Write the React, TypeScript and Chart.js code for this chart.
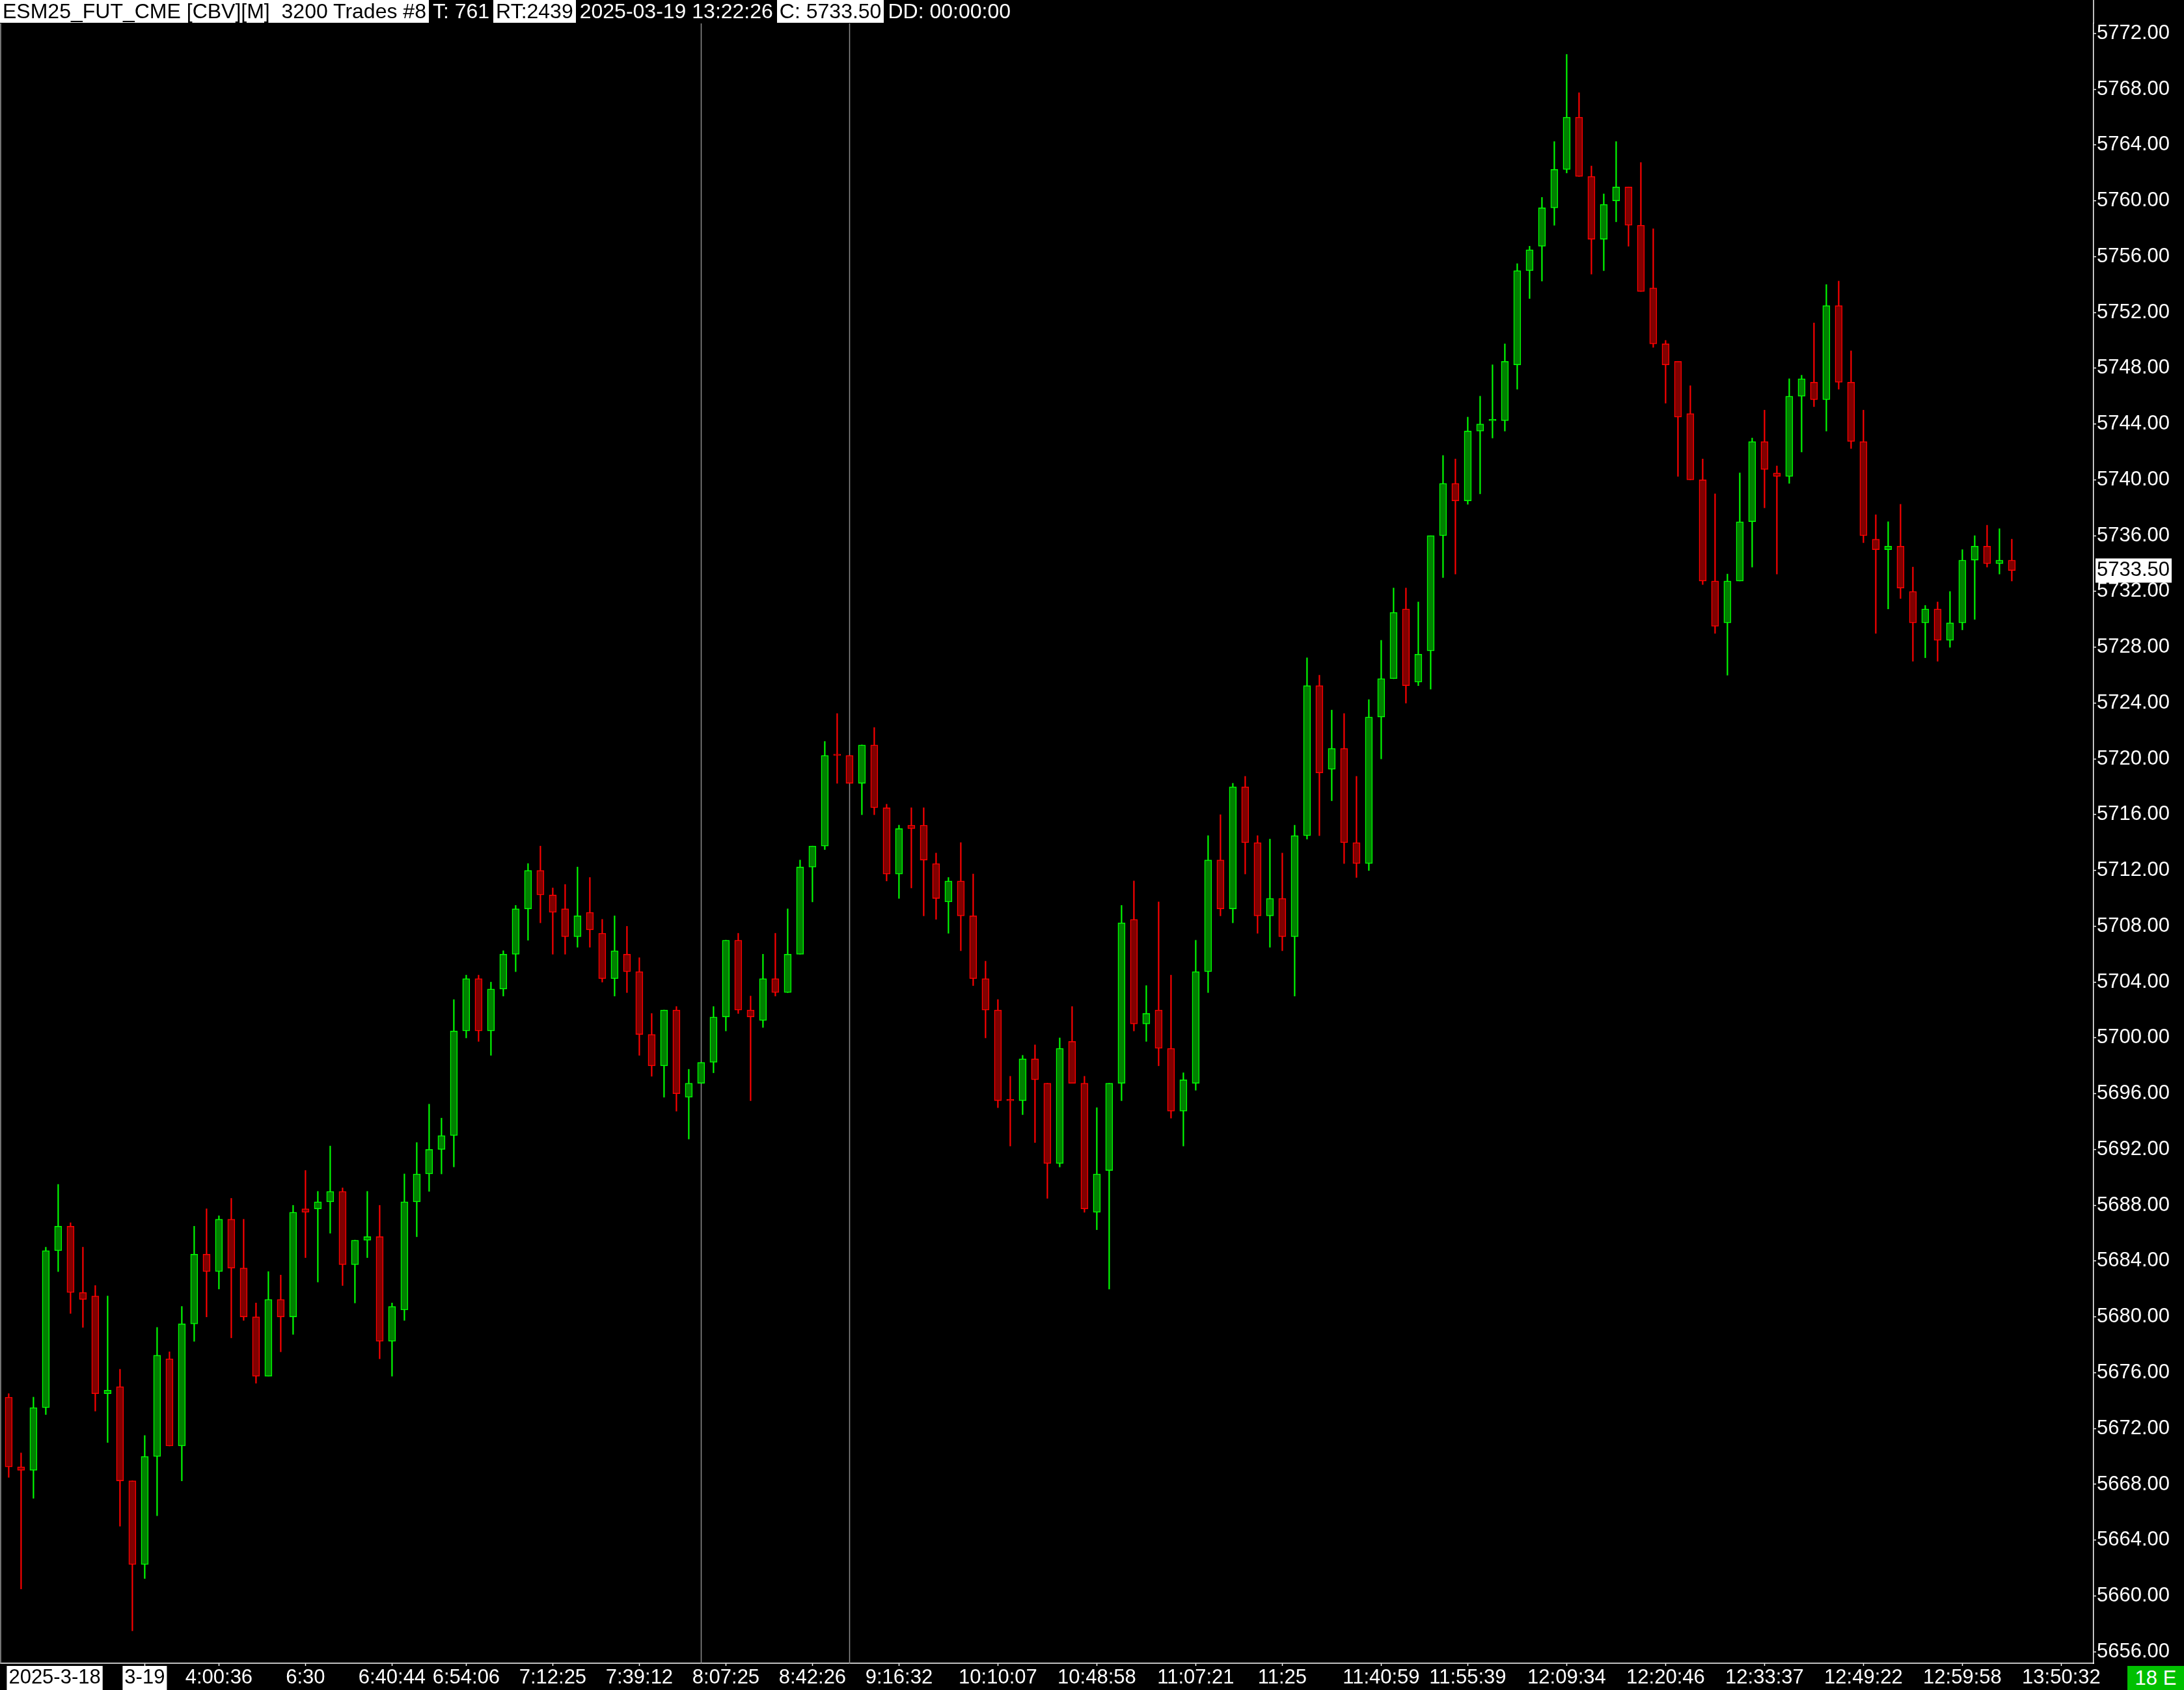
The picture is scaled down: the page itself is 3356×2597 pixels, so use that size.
import React, { useEffect, useRef } from "react";
import { Chart, registerables } from "chart.js";

Chart.register(...registerables);

const PAGE_W = 3356;
const PAGE_H = 2597;
const FONT = "'Liberation Sans', Arial, sans-serif";

// ES 1-minute-ish bars, oldest first
const opens = [
  5674.25, 5669.25, 5669.0, 5673.5, 5684.75, 5686.5, 5681.75, 5681.5, 5674.5, 5675.0,
  5668.25, 5662.25, 5670.0, 5677.0, 5670.75, 5679.5, 5684.5, 5683.25, 5687.0, 5683.5,
  5680.0, 5675.75, 5681.25, 5680.0, 5687.75, 5687.75, 5688.25, 5689.0, 5683.75, 5685.5,
  5685.75, 5678.25, 5680.5, 5688.25, 5690.25, 5692.0, 5693.0, 5700.5, 5704.25, 5700.5,
  5703.5, 5706.0, 5709.25, 5712.0, 5710.25, 5709.25, 5707.25, 5709.0, 5707.5, 5704.25,
  5706.0, 5704.75, 5700.25, 5698.0, 5702.0, 5695.75, 5696.75, 5698.25, 5701.5, 5707.0,
  5702.0, 5701.25, 5704.25, 5703.25, 5706.0, 5712.25, 5713.75, 5720.25, 5720.25, 5718.25,
  5721.0, 5716.5, 5711.75, 5715.25, 5715.25, 5712.5, 5709.75, 5711.25, 5708.75, 5704.25,
  5702.0, 5695.5, 5695.5, 5698.5, 5696.75, 5691.0, 5699.75, 5696.75, 5687.5, 5690.5,
  5696.75, 5708.5, 5701.0, 5702.0, 5699.25, 5694.75, 5696.75, 5704.75, 5712.75, 5709.25,
  5718.0, 5714.0, 5708.75, 5710.0, 5707.25, 5714.5, 5725.25, 5719.25, 5720.75, 5714.0,
  5712.5, 5723.0, 5725.75, 5730.75, 5725.5, 5727.75, 5736.0, 5739.75, 5738.5, 5743.5,
  5744.25, 5744.25, 5748.25, 5755.0, 5756.75, 5759.5, 5762.25, 5766.0, 5761.75, 5757.25,
  5760.0, 5761.0, 5758.25, 5753.75, 5749.75, 5748.5, 5744.75, 5740.0, 5732.75, 5729.75,
  5732.75, 5737.0, 5742.75, 5740.5, 5740.25, 5746.0, 5747.0, 5745.75, 5752.5, 5747.0,
  5742.75, 5735.75, 5735.0, 5735.25, 5732.0, 5729.75, 5730.75, 5728.5, 5729.75, 5734.25,
  5735.25, 5734.0, 5734.25,
];
const highs = [
  5674.5, 5670.25, 5674.25, 5685.0, 5689.5, 5686.75, 5685.0, 5682.25, 5681.5, 5676.25,
  5668.25, 5671.5, 5679.25, 5677.5, 5680.75, 5686.5, 5687.75, 5687.25, 5688.5, 5687.0,
  5681.0, 5683.25, 5683.0, 5688.0, 5690.5, 5689.0, 5692.25, 5689.25, 5685.5, 5689.0,
  5688.0, 5681.0, 5690.25, 5692.5, 5695.25, 5694.25, 5702.75, 5704.5, 5704.5, 5704.0,
  5706.25, 5709.5, 5712.5, 5713.75, 5710.75, 5711.0, 5712.25, 5711.5, 5708.5, 5708.75,
  5708.0, 5705.75, 5701.75, 5702.0, 5702.25, 5697.75, 5698.25, 5702.25, 5707.0, 5707.5,
  5703.0, 5706.0, 5707.5, 5709.25, 5712.75, 5713.75, 5721.25, 5723.25, 5720.25, 5721.0,
  5722.25, 5716.75, 5715.25, 5716.5, 5716.5, 5713.25, 5711.5, 5714.0, 5711.75, 5705.5,
  5702.75, 5697.25, 5698.75, 5699.5, 5696.75, 5700.0, 5702.25, 5697.25, 5695.0, 5696.75,
  5709.5, 5711.25, 5703.75, 5709.75, 5704.5, 5697.5, 5707.0, 5714.5, 5716.0, 5718.25,
  5718.75, 5714.5, 5714.25, 5713.25, 5715.25, 5727.25, 5726.0, 5723.5, 5723.25, 5718.75,
  5724.25, 5728.5, 5732.25, 5732.25, 5731.25, 5736.0, 5741.75, 5741.5, 5744.5, 5746.0,
  5748.25, 5749.75, 5755.5, 5756.75, 5760.25, 5764.25, 5770.5, 5767.75, 5762.5, 5760.5,
  5764.25, 5761.0, 5762.75, 5758.0, 5750.0, 5748.5, 5746.75, 5741.5, 5739.0, 5733.25,
  5740.5, 5743.0, 5745.0, 5741.0, 5747.25, 5747.5, 5751.25, 5754.0, 5754.25, 5749.25,
  5745.0, 5737.5, 5737.0, 5738.25, 5733.75, 5731.0, 5731.25, 5732.0, 5735.0, 5736.0,
  5736.75, 5736.5, 5735.75,
];
const lows = [
  5668.5, 5660.5, 5667.0, 5673.0, 5683.25, 5680.25, 5679.25, 5673.25, 5671.0, 5665.0,
  5657.5, 5661.25, 5665.75, 5670.75, 5668.25, 5678.25, 5680.0, 5682.0, 5678.5, 5679.75,
  5675.25, 5675.75, 5677.5, 5678.75, 5684.25, 5682.5, 5686.0, 5682.25, 5681.0, 5684.25,
  5677.0, 5675.75, 5679.75, 5685.75, 5689.0, 5690.25, 5690.75, 5700.0, 5699.75, 5698.75,
  5703.0, 5704.75, 5707.0, 5708.25, 5706.0, 5706.0, 5706.5, 5706.5, 5704.0, 5703.0,
  5703.25, 5698.75, 5697.25, 5695.75, 5694.75, 5692.75, 5696.75, 5697.5, 5700.5, 5701.75,
  5695.5, 5700.75, 5703.0, 5703.25, 5706.0, 5709.75, 5713.5, 5718.25, 5718.25, 5716.0,
  5716.0, 5711.25, 5710.0, 5710.75, 5708.75, 5708.5, 5707.5, 5706.25, 5703.75, 5700.0,
  5695.0, 5692.25, 5694.5, 5692.5, 5688.5, 5690.75, 5696.75, 5687.5, 5686.25, 5682.0,
  5695.5, 5700.5, 5699.75, 5698.0, 5694.25, 5692.25, 5696.25, 5703.25, 5708.75, 5708.25,
  5711.75, 5707.5, 5706.5, 5706.25, 5703.0, 5714.25, 5714.5, 5717.0, 5712.5, 5711.5,
  5712.0, 5720.0, 5725.75, 5724.0, 5725.25, 5725.0, 5733.0, 5733.25, 5738.25, 5739.0,
  5743.0, 5743.5, 5746.5, 5753.0, 5754.25, 5758.25, 5762.0, 5761.75, 5754.75, 5755.0,
  5758.5, 5756.75, 5753.5, 5749.5, 5745.5, 5740.25, 5740.0, 5732.5, 5729.0, 5726.0,
  5732.75, 5733.75, 5738.0, 5733.25, 5739.75, 5742.0, 5745.25, 5743.5, 5746.5, 5742.25,
  5735.5, 5729.0, 5730.75, 5731.5, 5727.0, 5727.25, 5727.0, 5728.0, 5729.25, 5730.0,
  5733.75, 5733.25, 5732.75,
];
const closes = [
  5669.25, 5669.0, 5673.5, 5684.75, 5686.5, 5681.75, 5681.25, 5674.5, 5674.75, 5668.25,
  5662.25, 5670.0, 5677.25, 5670.75, 5679.5, 5684.5, 5683.25, 5687.0, 5683.5, 5680.0,
  5675.75, 5681.25, 5680.0, 5687.5, 5687.5, 5688.25, 5689.0, 5683.75, 5685.5, 5685.75,
  5678.25, 5680.75, 5688.25, 5690.25, 5692.0, 5693.0, 5700.5, 5704.25, 5700.5, 5703.5,
  5706.0, 5709.25, 5712.0, 5710.25, 5709.0, 5707.25, 5708.75, 5707.75, 5704.25, 5706.25,
  5704.75, 5700.25, 5698.0, 5702.0, 5696.0, 5696.75, 5698.25, 5701.5, 5707.0, 5702.0,
  5701.5, 5704.25, 5703.25, 5706.0, 5712.25, 5713.75, 5720.25, 5720.25, 5718.25, 5721.0,
  5716.5, 5711.75, 5715.0, 5715.0, 5712.75, 5710.0, 5711.25, 5708.75, 5704.25, 5702.0,
  5695.5, 5695.5, 5698.5, 5697.0, 5691.0, 5699.25, 5696.75, 5687.75, 5690.25, 5696.75,
  5708.25, 5701.0, 5701.75, 5699.25, 5694.75, 5697.0, 5704.75, 5712.75, 5709.25, 5718.0,
  5714.0, 5708.75, 5710.0, 5707.25, 5714.5, 5725.25, 5719.0, 5720.75, 5714.0, 5712.5,
  5723.0, 5725.75, 5730.5, 5725.25, 5727.5, 5736.0, 5739.75, 5738.5, 5743.5, 5744.0,
  5744.25, 5748.5, 5755.0, 5756.5, 5759.5, 5762.25, 5766.0, 5761.75, 5757.25, 5759.75,
  5761.0, 5758.25, 5753.5, 5749.75, 5748.25, 5744.5, 5740.0, 5732.75, 5729.5, 5732.75,
  5737.0, 5742.75, 5740.75, 5740.25, 5746.0, 5747.25, 5745.75, 5752.5, 5747.0, 5742.75,
  5736.0, 5735.0, 5735.25, 5732.25, 5729.75, 5730.75, 5728.5, 5729.75, 5734.25, 5735.25,
  5734.0, 5734.25, 5733.5,
];

// right price scale
const priceTicks = [
  5656, 5660, 5664, 5668, 5672, 5676, 5680, 5684, 5688, 5692, 5696, 5700, 5704, 5708, 5712,
  5716, 5720, 5724, 5728, 5732, 5736, 5740, 5744, 5748, 5752, 5756, 5760, 5764, 5768, 5772,
];
const lastPrice = 5733.5;
const priceMin = 5655.17;
const priceMax = 5772.72;

// bottom time scale: bar index of each label
const timeTickBars = [0, 11, 17, 24, 31, 37, 44, 51, 58, 65, 72, 80, 88, 96, 103, 111, 118, 126, 134, 142, 150, 158, 166];
const timeTickLabels = [
  "2025-3-18", "3-19", "4:00:36", "6:30", "6:40:44", "6:54:06", "7:12:25", "7:39:12",
  "8:07:25", "8:42:26", "9:16:32", "10:10:07", "10:48:58", "11:07:21", "11:25", "11:40:59",
  "11:55:39", "12:09:34", "12:20:46", "12:33:37", "12:49:22", "12:59:58", "13:50:32",
];
const barMin = -0.705;
const barMax = 168.61;

// session separator lines
const sessionBreakBars = [56, 68];

const headerItems = [
  { text: "ESM25_FUT_CME [CBV][M]  3200 Trades #8", boxed: true },
  { text: "T: 761", boxed: false },
  { text: "RT:2439", boxed: true },
  { text: "2025-03-19 13:22:26", boxed: false },
  { text: "C: 5733.50", boxed: true },
  { text: "DD: 00:00:00", boxed: false },
];

const UP_FILL = "#008000";
const UP_LINE = "#00ff00";
const DOWN_FILL = "#800000";
const DOWN_LINE = "#ff0000";
const CLEAR = "rgba(0,0,0,0)";

const framePlugin = {
  id: "frame",
  beforeDatasetsDraw(chart: any) {
    const { ctx, chartArea: a, scales } = chart;
    ctx.save();
    ctx.strokeStyle = "#8c8c8c";
    ctx.lineWidth = 1.5;
    sessionBreakBars.forEach((b) => {
      const x = Math.round(scales.x.getPixelForValue(b)) + 0.5;
      ctx.beginPath();
      ctx.moveTo(x, a.top);
      ctx.lineTo(x, a.bottom);
      ctx.stroke();
    });
    ctx.strokeStyle = "#9a9a9a";
    ctx.beginPath();
    ctx.moveTo(1, a.top);
    ctx.lineTo(1, a.bottom);
    ctx.stroke();
    ctx.restore();
  },
  afterDraw(chart: any) {
    const { ctx, chartArea: a } = chart;
    ctx.save();
    ctx.strokeStyle = "#ffffff";
    ctx.lineWidth = 1.5;
    ctx.beginPath();
    ctx.moveTo(a.right, 0);
    ctx.lineTo(a.right, a.top);
    ctx.stroke();
    ctx.restore();
  },
};

const CandleChart: React.FC = () => {
  const canvasRef = useRef<HTMLCanvasElement>(null);
  const chartRef = useRef<Chart | null>(null);

  useEffect(() => {
    if (!canvasRef.current) return;
    if (chartRef.current) chartRef.current.destroy();

    const bars = opens.map((_, i) => i);
    const isUp = bars.map((i) => {
      const o = opens[i];
      const c = closes[i];
      if (c !== o) return c > o;
      return i > 0 && c > closes[i - 1];
    });

    chartRef.current = new Chart(canvasRef.current, {
      type: "bar",
      data: {
        datasets: [
          {
            label: "wick",
            data: bars.map((i) => ({ x: i, y: [lows[i], highs[i]] })) as any,
            backgroundColor: isUp.map((u) => (u ? UP_LINE : DOWN_LINE)),
            borderWidth: 0,
            barThickness: 1.5,
            grouped: false,
            order: 2,
          },
          {
            label: "body",
            data: bars.map((i) => ({ x: i, y: [opens[i], closes[i]] })) as any,
            backgroundColor: isUp.map((u) => (u ? UP_FILL : DOWN_FILL)),
            borderColor: isUp.map((u) => (u ? UP_LINE : DOWN_LINE)),
            borderWidth: 1.5,
            borderSkipped: false,
            barThickness: 11,
            minBarLength: 2,
            grouped: false,
            order: 1,
          },
        ],
      },
      options: {
        animation: false,
        responsive: true,
        maintainAspectRatio: false,
        devicePixelRatio: 1,
        events: [],
        layout: { padding: { top: 36, left: 0, right: 0, bottom: 0 } },
        plugins: {
          legend: { display: false },
          tooltip: { enabled: false },
        },
        scales: {
          x: {
            type: "linear",
            offset: false,
            min: barMin,
            max: barMax,
            bounds: "data",
            afterBuildTicks: (scale: any) => {
              // trailing blank tick keeps the last time label centred
              scale.ticks = [...timeTickBars, barMax - 0.1].map((v) => ({ value: v }));
            },
            afterFit: (scale: any) => {
              scale.height = PAGE_H - 2556;
            },
            grid: {
              offset: false,
              drawOnChartArea: false,
              drawTicks: true,
              tickLength: 4,
              tickWidth: 1.5,
              tickColor: (ctx: any) =>
                ctx.index === 0 || ctx.index >= timeTickBars.length ? CLEAR : "#ffffff",
            },
            border: { display: true, color: "#ffffff", width: 1.5 },
            ticks: {
              align: "inner",
              autoSkip: false,
              maxRotation: 0,
              minRotation: 0,
              padding: 0,
              font: { family: FONT, size: 31 },
              color: (ctx: any) => (ctx.index < 2 ? "#000000" : "#ffffff"),
              showLabelBackdrop: (ctx: any) => ctx.index < 2,
              backdropColor: "#ffffff",
              backdropPadding: { left: 3, right: 3, top: 0, bottom: 0 },
              callback: (_v: any, i: number) => timeTickLabels[i] ?? "",
            },
          },
          y: {
            type: "linear",
            position: "right",
            min: priceMin,
            max: priceMax,
            bounds: "data",
            afterBuildTicks: (scale: any) => {
              scale.ticks = [...priceTicks, lastPrice].map((v) => ({ value: v }));
            },
            afterFit: (scale: any) => {
              scale.width = PAGE_W - 3217;
            },
            grid: {
              drawOnChartArea: false,
              drawTicks: true,
              tickLength: 4,
              tickWidth: 1.5,
              tickColor: (ctx: any) =>
                ctx.tick && ctx.tick.value === lastPrice ? CLEAR : "#ffffff",
            },
            border: { display: true, color: "#ffffff", width: 1.5 },
            ticks: {
              autoSkip: false,
              padding: 1,
              font: { family: FONT, size: 31 },
              color: (ctx: any) =>
                ctx.tick && ctx.tick.value === lastPrice ? "#000000" : "#ffffff",
              showLabelBackdrop: (ctx: any) => !!ctx.tick && ctx.tick.value === lastPrice,
              backdropColor: "#ffffff",
              backdropPadding: { left: 2, right: 3, top: 0, bottom: 0 },
              callback: (v: any) => Number(v).toFixed(2),
            },
          },
        },
      } as any,
      plugins: [framePlugin],
    });

    return () => {
      if (chartRef.current) {
        chartRef.current.destroy();
        chartRef.current = null;
      }
    };
  }, []);

  return <canvas ref={canvasRef} />;
};

const App: React.FC = () => {
  useEffect(() => {
    document.body.style.margin = "0";
    document.body.style.background = "#000";
  }, []);

  return (
    <div
      style={{
        position: "absolute",
        left: 0,
        top: 0,
        width: PAGE_W,
        height: PAGE_H,
        background: "#000",
        overflow: "hidden",
        fontFamily: FONT,
      }}
    >
      <div style={{ position: "absolute", inset: 0 }}>
        <CandleChart />
      </div>

      {/* chart header line */}
      <div style={{ position: "absolute", left: 0, top: 0, display: "flex", gap: 2 }}>
        {headerItems.map((h) => (
          <span
            key={h.text}
            style={{
              whiteSpace: "pre",
              fontSize: 32,
              lineHeight: "35px",
              height: 35,
              padding: "0 4px",
              background: h.boxed ? "#fff" : "#000",
              color: h.boxed ? "#000" : "#fff",
            }}
          >
            {h.text}
          </span>
        ))}
      </div>

      {/* status box, bottom right */}
      <div
        style={{
          position: "absolute",
          left: 3269,
          top: 2560,
          width: 87,
          height: 37,
          background: "#00c000",
          color: "#fff",
          fontSize: 31,
          lineHeight: "37px",
          textAlign: "center",
        }}
      >
        18 E
      </div>
    </div>
  );
};

export default App;
